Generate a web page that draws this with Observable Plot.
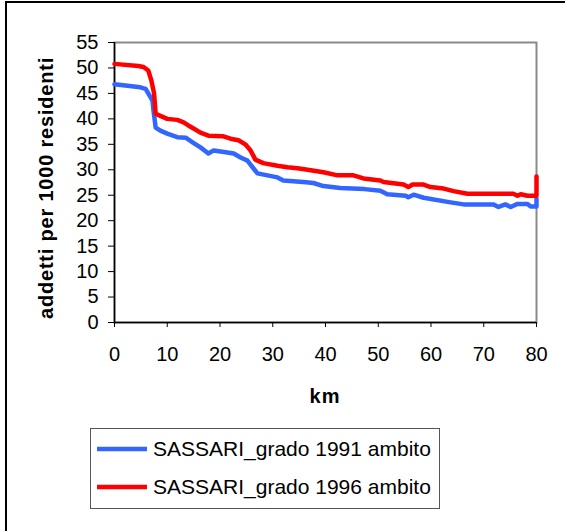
<!DOCTYPE html>
<html>
<head>
<meta charset="utf-8">
<script src="https://cdn.jsdelivr.net/npm/d3@7"></script>
<script src="https://cdn.jsdelivr.net/npm/@observablehq/plot@0.6"></script>
<style>
  html, body { margin: 0; padding: 0; background: #fff; }
  #wrap { position: relative; width: 565px; height: 531px; overflow: hidden; background: #fff;
          font-family: "Liberation Sans", Arial, sans-serif; color: #000; }
  #border { position: absolute; left: 5px; top: 1px; width: 700px; height: 700px;
            border-left: 2px solid #000; border-top: 2px solid #000; box-sizing: border-box; }
  #chart { position: absolute; left: 0; top: 0; }
  #legend { position: absolute; left: 90px; top: 428px; width: 350px; height: 81px;
            border: 1px solid #555; box-sizing: border-box; background: #fff; }
  .row { position: absolute; left: 6px; height: 30px; display: flex; align-items: center; }
  .row svg { margin-right: 6px; }
  .row span { font-size: 21px; white-space: nowrap; }
</style>
</head>
<body>
<div id="wrap">
  <div id="border"></div>
  <div id="chart"></div>
  <div id="legend"></div>
</div>
<script>
// ---- data ----
const seriesNames = ["SASSARI_grado 1991 ambito", "SASSARI_grado 1996 ambito"];
const seriesColors = ["#3366FF", "#FF0000"];

const km1991 = [0, 4.9, 5.9, 6.4, 7.2, 7.4, 7.8, 8.7, 10, 11.9, 13.5, 14.8, 16.3, 17.8, 18.8, 21.4, 22.6, 23.9, 25.2, 26.4, 27.1, 29, 30.9, 32, 35.8, 37.7, 39.6, 42.8, 47.4, 50.4, 51.7, 55.2, 55.7, 56.7, 58.6, 63.7, 66.2, 71.8, 72.8, 74.1, 75.1, 76.4, 78.3, 78.9, 80, 80];
const val1991 = [46.8, 46.2, 45.9, 45, 43.6, 41.6, 38.3, 37.7, 37.1, 36.4, 36.3, 35.4, 34.4, 33.2, 33.8, 33.4, 33.2, 32.4, 31.8, 30.2, 29.3, 28.9, 28.5, 27.9, 27.6, 27.4, 26.8, 26.4, 26.2, 25.9, 25.2, 24.9, 24.6, 25.1, 24.5, 23.6, 23.2, 23.2, 22.7, 23.2, 22.7, 23.3, 23.3, 22.8, 22.8, 24.3];

const km1996 = [0, 4.5, 5.5, 6.4, 7.0, 7.5, 7.8, 8.7, 10, 11.9, 13.1, 14, 15, 16.3, 17.8, 20.5, 22, 23.5, 24.8, 25.8, 26.7, 28.2, 30.9, 32.8, 34.7, 37.2, 39.6, 42.3, 45.3, 47.2, 50.4, 51, 54.8, 55.7, 56.5, 58.6, 59.9, 62.4, 64.3, 66.9, 75.6, 76.4, 77, 78.3, 80, 80];
const val1996 = [50.8, 50.4, 50.2, 49.5, 47.5, 45, 41, 40.6, 40, 39.8, 39.3, 38.7, 38.1, 37.3, 36.7, 36.6, 36.1, 35.8, 35, 33.8, 32, 31.3, 30.8, 30.5, 30.3, 29.9, 29.5, 28.9, 28.9, 28.3, 27.9, 27.6, 27.1, 26.6, 27.1, 27.1, 26.6, 26.3, 25.8, 25.3, 25.3, 24.9, 25.2, 24.9, 24.9, 28.7];

const xTicks = [0, 10, 20, 30, 40, 50, 60, 70, 80];
const yTicks = [0, 5, 10, 15, 20, 25, 30, 35, 40, 45, 50, 55];
const xLabel = "km";
const yLabel = "addetti per 1000 residenti";

// ---- build ----
const d1991 = km1991.map((k, i) => ({km: k, v: val1991[i]}));
const d1996 = km1996.map((k, i) => ({km: k, v: val1996[i]}));

const W = 565, H = 420;
const mL = 114, mR = 29, mT = 42, mB = 98;

const plot = Plot.plot({
  width: W,
  height: H,
  marginLeft: mL,
  marginRight: mR,
  marginTop: mT,
  marginBottom: mB,
  style: {fontFamily: '"Liberation Sans", Arial, sans-serif', fontSize: "20px", background: "transparent", color: "#000", overflow: "visible"},
  x: {domain: [0, 80]},
  y: {domain: [0, 55]},
  marks: [
    Plot.frame({stroke: "#8a8a8a", strokeWidth: 2}),
    Plot.ruleX([0], {stroke: "#000", strokeWidth: 1.5}),
    Plot.ruleY([0], {stroke: "#000", strokeWidth: 1.5}),
    Plot.axisX({ticks: xTicks, tickSize: 5, tickPadding: 19, label: null, fontSize: 20}),
    Plot.axisY({ticks: yTicks, tickSize: 6, tickPadding: 10, label: null, fontSize: 20}),
    Plot.line(d1991, {x: "km", y: "v", stroke: seriesColors[0], strokeWidth: 4.5, clip: false}),
    Plot.line(d1996, {x: "km", y: "v", stroke: seriesColors[1], strokeWidth: 4.5, clip: false})
  ]
});
document.getElementById("chart").appendChild(plot);

// axis titles
const svg = d3.select(plot);
svg.append("text")
  .attr("transform", "translate(53,188) rotate(-90)")
  .attr("text-anchor", "middle")
  .attr("font-weight", "bold")
  .attr("font-size", 20)
  .attr("letter-spacing", 0.8)
  .text(yLabel);
svg.append("text")
  .attr("x", (mL + (W - mR)) / 2)
  .attr("y", 403)
  .attr("text-anchor", "middle")
  .attr("font-weight", "bold")
  .attr("font-size", 20)
  .attr("letter-spacing", 1)
  .text(xLabel);

// legend
const legend = document.getElementById("legend");
seriesNames.forEach((name, i) => {
  const row = document.createElement("div");
  row.className = "row";
  row.style.top = (i === 0 ? 5 : 43) + "px";
  row.innerHTML = `<svg width="50" height="8"><line x1="0" x2="50" y1="4" y2="4" stroke="${seriesColors[i]}" stroke-width="4.5"/></svg><span>${name}</span>`;
  legend.appendChild(row);
});
</script>
</body>
</html>
